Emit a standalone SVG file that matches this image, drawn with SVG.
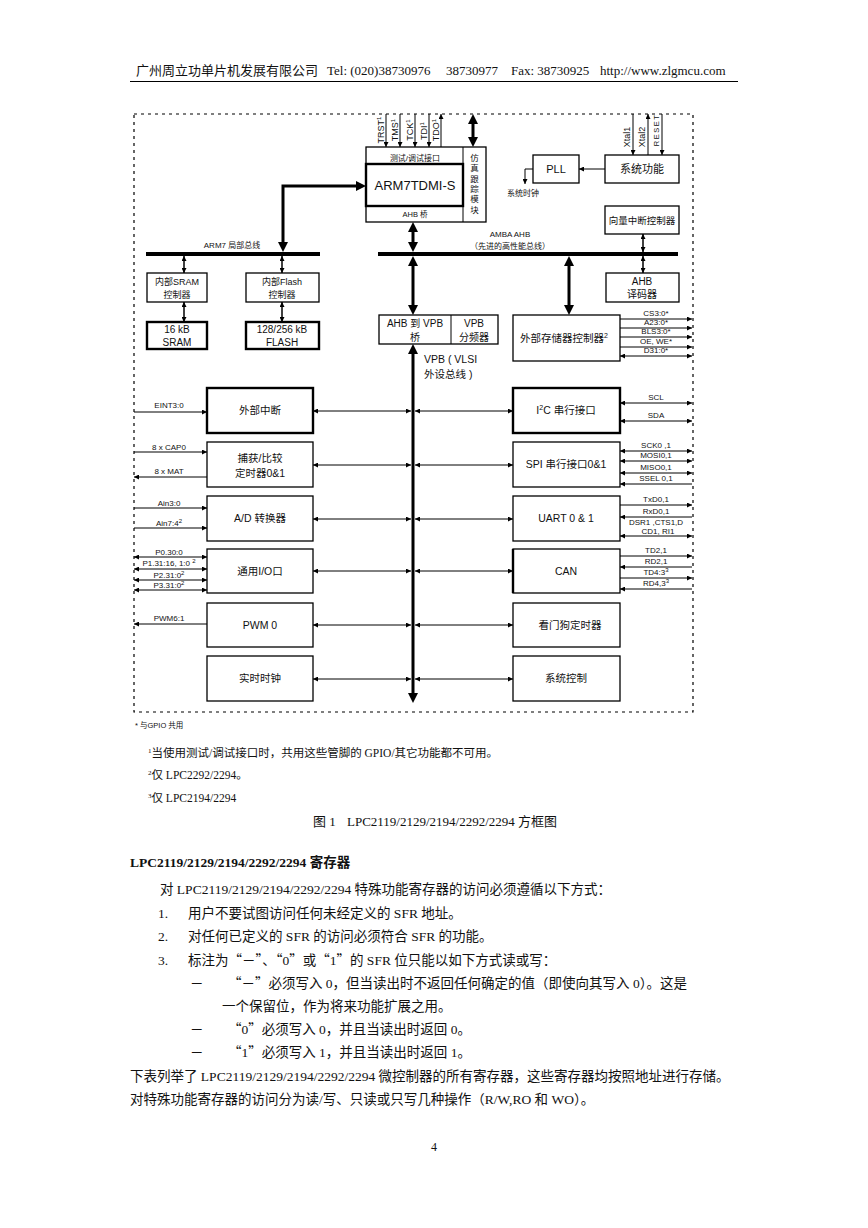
<svg xmlns="http://www.w3.org/2000/svg" width="868" height="1228" viewBox="0 0 868 1228">
<style>
.d{font-family:"Liberation Sans","Noto Sans CJK SC",sans-serif;fill:#111}
.s{font-family:"Liberation Serif","Noto Sans CJK SC",serif;fill:#111}
.q{font-family:"Noto Sans CJK SC",sans-serif}
.box{fill:#fff;stroke:#000;stroke-width:1.3}
.tb{fill:#fff;stroke:#000;stroke-width:2.4}
.ln{stroke:#000;stroke-width:1;fill:none}
.mid{stroke:#000;stroke-width:1.5;fill:none}
.thk{stroke:#000;stroke-width:3;fill:none}
.bus{stroke:#000;stroke-width:4;fill:none}
.c{text-anchor:middle}
</style>
<defs>
<marker id="a" viewBox="0 0 10 10" refX="10" refY="5" markerWidth="6" markerHeight="5" markerUnits="userSpaceOnUse" orient="auto-start-reverse"><path d="M0,0L10,5L0,10z"/></marker>
<marker id="b" viewBox="0 0 10 10" refX="6" refY="5" markerWidth="10" markerHeight="10" markerUnits="userSpaceOnUse" orient="auto-start-reverse"><path d="M0,0L10,5L0,10z"/></marker>
</defs>

<g id="header">
<text class="s" x="136" y="75" font-size="13">广州周立功单片机发展有限公司</text>
<text class="s" x="327" y="75" font-size="13">Tel: (020)38730976</text>
<text class="s" x="446" y="75" font-size="13">38730977</text>
<text class="s" x="511" y="75" font-size="13">Fax: 38730925</text>
<text class="s" x="600" y="75" font-size="13">http://www.zlgmcu.com</text>
<line x1="130" y1="81.5" x2="738" y2="81.5" stroke="#000" stroke-width="1"/>
</g>

<rect id="frame" x="134" y="114" width="559" height="598" fill="none" stroke="#000" stroke-width="1.2" stroke-dasharray="3,4"/>

<g id="cpu">
<rect class="box" x="366" y="147" width="120" height="75"/>
<line class="ln" x1="463" y1="147" x2="463" y2="222"/>
<rect class="tb" x="366" y="164" width="97" height="42"/>
<text class="d c" x="415" y="161" font-size="8">测试/调试接口</text>
<text class="d c" x="415" y="190" font-size="13">ARM7TDMI-S</text>
<text class="d c" x="415" y="217" font-size="7.5">AHB  桥</text>
<g class="d c" font-size="8.5" fill="#333">
<text x="474.5" y="161">仿</text><text x="474.5" y="171">真</text><text x="474.5" y="182">跟</text><text x="474.5" y="192">踪</text><text x="474.5" y="202">模</text><text x="474.5" y="213">块</text>
</g>
</g>

<g id="pll">
<rect class="box" x="533" y="155" width="46" height="28"/>
<text class="d c" x="556" y="173" font-size="11">PLL</text>
</g>
<g id="sysfunc">
<rect class="box" x="605" y="155" width="74" height="28"/>
<text class="d c" x="642" y="173" font-size="11">系统功能</text>
</g>
<g id="vic">
<rect class="box" x="605" y="206" width="74" height="28"/>
<text class="d c" x="642" y="224" font-size="9.5">向量中断控制器</text>
</g>
<g id="sramctl">
<rect class="box" x="147" y="273" width="60" height="29"/>
<text class="d c" x="177" y="285" font-size="9">内部SRAM</text>
<text class="d c" x="177" y="298" font-size="9">控制器</text>
</g>
<g id="sram">
<rect class="tb" x="147" y="322" width="60" height="27"/>
<text class="d c" x="177" y="333" font-size="10">16 kB</text>
<text class="d c" x="177" y="346" font-size="10">SRAM</text>
</g>
<g id="flashctl">
<rect class="box" x="246" y="273" width="73" height="29"/>
<text class="d c" x="282" y="285" font-size="9">内部Flash</text>
<text class="d c" x="282" y="298" font-size="9">控制器</text>
</g>
<g id="flash">
<rect class="tb" x="246" y="322" width="73" height="27"/>
<text class="d c" x="282" y="333" font-size="10">128/256 kB</text>
<text class="d c" x="282" y="346" font-size="10">FLASH</text>
</g>
<g id="bridge">
<rect class="box" x="379" y="315" width="119" height="29"/>
<line class="ln" x1="451" y1="315" x2="451" y2="344"/>
<text class="d c" x="415" y="327" font-size="10">AHB 到 VPB</text>
<text class="d c" x="415" y="341" font-size="10">桥</text>
<text class="d c" x="474" y="327" font-size="10">VPB</text>
<text class="d c" x="474" y="341" font-size="10">分频器</text>
</g>
<g id="emc">
<rect class="box" x="513" y="315" width="107" height="46"/>
<text class="d c" x="564" y="342" font-size="10.5">外部存储器控制器<tspan dy="-4" font-size="7">2</tspan></text>
</g>
<g id="ahbdec">
<rect class="box" x="606" y="273" width="73" height="29"/>
<text class="d c" x="642" y="285" font-size="10">AHB</text>
<text class="d c" x="642" y="298" font-size="10">译码器</text>
</g>

<g id="eint"><rect class="tb" x="207" y="388" width="106" height="45"/><text class="d c" x="260" y="414" font-size="10.5">外部中断</text></g>
<g id="timer"><rect class="box" x="207" y="442" width="106" height="45"/><text class="d c" x="260" y="462" font-size="10.5">捕获/比较</text><text class="d c" x="260" y="477" font-size="10.5">定时器0&amp;1</text></g>
<g id="adc"><rect class="box" x="207" y="496" width="106" height="45"/><text class="d c" x="260" y="522" font-size="10.5">A/D 转换器</text></g>
<g id="gpio"><rect class="box" x="207" y="549" width="106" height="44"/><text class="d c" x="260" y="575" font-size="10.5">通用I/O口</text></g>
<g id="pwm"><rect class="box" x="207" y="603" width="106" height="44"/><text class="d c" x="260" y="629" font-size="10.5">PWM 0</text></g>
<g id="rtc"><rect class="box" x="207" y="656" width="106" height="45"/><text class="d c" x="260" y="682" font-size="10.5">实时时钟</text></g>

<g id="i2c"><rect class="tb" x="513" y="388" width="107" height="45"/><text class="d c" x="566" y="414" font-size="10.5">I<tspan dy="-4" font-size="7">2</tspan><tspan dy="4">C 串行接口</tspan></text></g>
<g id="spi"><rect class="box" x="513" y="442" width="107" height="45"/><text class="d c" x="566" y="468" font-size="10.5">SPI 串行接口0&amp;1</text></g>
<g id="uart"><rect class="box" x="513" y="496" width="107" height="45"/><text class="d c" x="566" y="522" font-size="10.5">UART  0 &amp; 1</text></g>
<g id="can"><rect class="box" x="513" y="549" width="107" height="44"/><line x1="513" y1="549" x2="513" y2="593" stroke="#000" stroke-width="2.4"/><text class="d c" x="566" y="575" font-size="10.5">CAN</text></g>
<g id="wdt"><rect class="box" x="513" y="603" width="107" height="44"/><text class="d c" x="570" y="629" font-size="10.5">看门狗定时器</text></g>
<g id="sysctl"><rect class="box" x="513" y="656" width="107" height="45"/><text class="d c" x="566" y="682" font-size="10.5">系统控制</text></g>

<g id="connectors">
<line class="bus" x1="146" y1="254" x2="320" y2="254"/>
<line class="bus" x1="378" y1="254" x2="678" y2="254"/>
<line class="ln" x1="386" y1="114" x2="386" y2="147" marker-end="url(#a)"/>
<line class="ln" x1="400" y1="114" x2="400" y2="147" marker-end="url(#a)"/>
<line class="ln" x1="415" y1="114" x2="415" y2="147" marker-end="url(#a)"/>
<line class="ln" x1="429" y1="114" x2="429" y2="147" marker-end="url(#a)"/>
<line class="ln" x1="441" y1="147" x2="441" y2="114" marker-end="url(#a)"/>
<line class="thk" x1="473" y1="118" x2="473" y2="143" marker-start="url(#b)" marker-end="url(#b)"/>
<line class="ln" x1="605" y1="169" x2="579" y2="169" marker-end="url(#a)"/>
<polyline class="ln" points="533,169 525,169 525,184" marker-end="url(#a)"/>
<line class="ln" x1="633" y1="114" x2="633" y2="155" marker-end="url(#a)"/>
<line class="ln" x1="648" y1="155" x2="648" y2="114" marker-end="url(#a)"/>
<line class="ln" x1="662" y1="114" x2="662" y2="155" marker-end="url(#a)"/>
<line class="mid" x1="643" y1="234" x2="643" y2="252" marker-start="url(#a)" marker-end="url(#a)"/>
<path class="thk" d="M283,248V186H362" marker-start="url(#b)" marker-end="url(#b)"/>
<line class="thk" x1="413" y1="226" x2="413" y2="248" marker-start="url(#b)" marker-end="url(#b)"/>
<line class="thk" x1="413" y1="260" x2="413" y2="311" marker-start="url(#b)" marker-end="url(#b)"/>
<line class="thk" x1="569" y1="260" x2="569" y2="311" marker-start="url(#b)" marker-end="url(#b)"/>
<line class="mid" x1="643" y1="256" x2="643" y2="273" marker-start="url(#a)" marker-end="url(#a)"/>
<line class="mid" x1="184" y1="256" x2="184" y2="273" marker-start="url(#a)" marker-end="url(#a)"/>
<line class="mid" x1="184" y1="302" x2="184" y2="322" marker-start="url(#a)" marker-end="url(#a)"/>
<line class="mid" x1="282" y1="256" x2="282" y2="273" marker-start="url(#a)" marker-end="url(#a)"/>
<line class="mid" x1="282" y1="302" x2="282" y2="322" marker-start="url(#a)" marker-end="url(#a)"/>
<line class="thk" x1="413" y1="348" x2="413" y2="699" marker-start="url(#b)" marker-end="url(#b)"/>
<g marker-start="url(#a)" marker-end="url(#a)">
<line class="ln" x1="313" y1="411" x2="411" y2="411"/><line class="ln" x1="415" y1="411" x2="513" y2="411"/>
<line class="ln" x1="313" y1="465" x2="411" y2="465"/><line class="ln" x1="415" y1="465" x2="513" y2="465"/>
<line class="ln" x1="313" y1="519" x2="411" y2="519"/><line class="ln" x1="415" y1="519" x2="513" y2="519"/>
<line class="ln" x1="313" y1="571" x2="411" y2="571"/><line class="ln" x1="415" y1="571" x2="513" y2="571"/>
<line class="ln" x1="313" y1="625" x2="411" y2="625"/><line class="ln" x1="415" y1="625" x2="513" y2="625"/>
<line class="ln" x1="313" y1="679" x2="411" y2="679"/><line class="ln" x1="415" y1="679" x2="513" y2="679"/>
</g>
<line class="ln" x1="620" y1="319" x2="692" y2="319" marker-end="url(#a)"/>
<line class="ln" x1="620" y1="328" x2="692" y2="328" marker-end="url(#a)"/>
<line class="ln" x1="620" y1="337" x2="692" y2="337" marker-end="url(#a)"/>
<line class="ln" x1="620" y1="347" x2="692" y2="347" marker-end="url(#a)"/>
<line class="ln" x1="620" y1="356" x2="692" y2="356" marker-start="url(#a)" marker-end="url(#a)"/>
<line class="ln" x1="134" y1="412" x2="207" y2="412" marker-end="url(#a)"/>
<line class="ln" x1="134" y1="452" x2="207" y2="452" marker-end="url(#a)"/>
<line class="ln" x1="207" y1="477" x2="134" y2="477" marker-end="url(#a)"/>
<line class="ln" x1="134" y1="508" x2="207" y2="508" marker-end="url(#a)"/>
<line class="ln" x1="134" y1="528" x2="207" y2="528" marker-end="url(#a)"/>
<line class="ln" x1="134" y1="557" x2="207" y2="557" marker-start="url(#a)" marker-end="url(#a)"/>
<line class="ln" x1="134" y1="569" x2="207" y2="569" marker-start="url(#a)" marker-end="url(#a)"/>
<line class="ln" x1="134" y1="580" x2="207" y2="580" marker-start="url(#a)" marker-end="url(#a)"/>
<line class="ln" x1="134" y1="590" x2="207" y2="590" marker-start="url(#a)" marker-end="url(#a)"/>
<line class="ln" x1="207" y1="624" x2="134" y2="624" marker-end="url(#a)"/>
<line class="ln" x1="620" y1="403" x2="692" y2="403" marker-start="url(#a)" marker-end="url(#a)"/>
<line class="ln" x1="620" y1="421" x2="692" y2="421" marker-start="url(#a)" marker-end="url(#a)"/>
<line class="ln" x1="620" y1="451" x2="692" y2="451" marker-start="url(#a)" marker-end="url(#a)"/>
<line class="ln" x1="620" y1="461" x2="692" y2="461" marker-start="url(#a)" marker-end="url(#a)"/>
<line class="ln" x1="620" y1="473" x2="692" y2="473" marker-start="url(#a)" marker-end="url(#a)"/>
<line class="ln" x1="692" y1="484" x2="620" y2="484" marker-end="url(#a)"/>
<line class="ln" x1="620" y1="505" x2="692" y2="505" marker-end="url(#a)"/>
<line class="ln" x1="692" y1="517" x2="620" y2="517" marker-end="url(#a)"/>
<line class="ln" x1="620" y1="536" x2="692" y2="536" marker-start="url(#a)" marker-end="url(#a)"/>
<line class="ln" x1="620" y1="556" x2="692" y2="556" marker-end="url(#a)"/>
<line class="ln" x1="692" y1="567" x2="620" y2="567" marker-end="url(#a)"/>
<line class="ln" x1="620" y1="578" x2="692" y2="578" marker-end="url(#a)"/>
<line class="ln" x1="692" y1="589" x2="620" y2="589" marker-end="url(#a)"/>
</g>

<g id="labels" class="d">
<g font-size="9">
<text transform="translate(384,130) rotate(-90)" class="c">TRST<tspan dy="-3" font-size="6">1</tspan></text>
<text transform="translate(398,130) rotate(-90)" class="c">TMS<tspan dy="-3" font-size="6">1</tspan></text>
<text transform="translate(413,130) rotate(-90)" class="c">TCK<tspan dy="-3" font-size="6">1</tspan></text>
<text transform="translate(427,131) rotate(-90)" class="c">TDI<tspan dy="-3" font-size="6">1</tspan></text>
<text transform="translate(439,130) rotate(-90)" class="c">TDO<tspan dy="-3" font-size="6">1</tspan></text>
<text transform="translate(630,137) rotate(-90)" class="c">Xtal1</text>
<text transform="translate(645,137) rotate(-90)" class="c">Xtal2</text>
<text transform="translate(659,130) rotate(-90)" class="c" font-size="7.5" letter-spacing="1.5">RESET</text>
</g>
<g font-size="8">
<text x="523" y="196" class="c">系统时钟</text>
<text x="510" y="237" class="c">AMBA AHB</text>
<text x="510" y="249" class="c">（先进的高性能总线）</text>
<text x="232" y="248" class="c">ARM7 局部总线</text>
</g>
<text x="424" y="363" font-size="10.5">VPB ( VLSI</text>
<text x="424" y="378" font-size="10.5">外设总线 )</text>
<g font-size="8" class="c">
<text x="656" y="316">CS3:0*</text>
<text x="656" y="325">A23:0*</text>
<text x="656" y="334">BLS3:0*</text>
<text x="656" y="344">OE, WE*</text>
<text x="656" y="353">D31:0*</text>
<text x="169" y="408">EINT3:0</text>
<text x="169" y="450">8 x CAP0</text>
<text x="169" y="474">8 x MAT</text>
<text x="169" y="506">Ain3:0</text>
<text x="169" y="526">Ain7:4<tspan dy="-3" font-size="6">2</tspan></text>
<text x="169" y="555">P0.30:0</text>
<text x="169" y="566">P1.31:16, 1:0 <tspan dy="-3" font-size="6">2</tspan></text>
<text x="169" y="578">P2.31:0<tspan dy="-3" font-size="6">2</tspan></text>
<text x="169" y="588">P3.31:0<tspan dy="-3" font-size="6">2</tspan></text>
<text x="169" y="621">PWM6:1</text>
<text x="656" y="400">SCL</text>
<text x="656" y="418">SDA</text>
<text x="656" y="448">SCK0 ,1</text>
<text x="656" y="458">MOSI0,1</text>
<text x="656" y="470">MISO0,1</text>
<text x="656" y="481">SSEL 0,1</text>
<text x="656" y="502">TxD0,1</text>
<text x="656" y="514">RxD0,1</text>
<text x="656" y="525">DSR1 ,CTS1,D</text>
<text x="658" y="534">CD1, RI1</text>
<text x="656" y="553">TD2,1</text>
<text x="656" y="564">RD2,1</text>
<text x="656" y="575">TD4:3<tspan dy="-3" font-size="6">3</tspan></text>
<text x="656" y="586">RD4,3<tspan dy="-3" font-size="6">3</tspan></text>
</g>
<text x="135" y="728" font-size="7.5">* 与GPIO 共用</text>
</g>

<g id="notes" class="s">
<text x="148" y="757" font-size="11.5"><tspan font-size="7" dy="-4">1</tspan><tspan dy="4">当使用测试/调试接口时，共用这些管脚的 GPIO/其它功能都不可用。</tspan></text>
<text x="148" y="779" font-size="11.5"><tspan font-size="7" dy="-4">2</tspan><tspan dy="4">仅 LPC2292/2294。</tspan></text>
<text x="148" y="802" font-size="11.5"><tspan font-size="7" dy="-4">3</tspan><tspan dy="4">仅 LPC2194/2294</tspan></text>
<text x="313" y="826" font-size="13">图 1</text>
<text x="347" y="826" font-size="13">LPC2119/2129/2194/2292/2294 方框图</text>
</g>

<g id="body" class="s" font-size="13.5">
<text x="130" y="867" font-weight="bold">LPC2119/2129/2194/2292/2294 寄存器</text>
<text x="160" y="894">对 LPC2119/2129/2194/2292/2294 特殊功能寄存器的访问必须遵循以下方式：</text>
<text x="158" y="918">1.</text><text x="188" y="918">用户不要试图访问任何未经定义的 SFR 地址。</text>
<text x="158" y="941">2.</text><text x="188" y="941">对任何已定义的 SFR 的访问必须符合 SFR 的功能。</text>
<text x="158" y="965">3.</text><text x="188" y="965">标注为<tspan class="q">“</tspan>－<tspan class="q">”、“</tspan>0<tspan class="q">”</tspan>或<tspan class="q">“</tspan>1<tspan class="q">”</tspan>的 SFR 位只能以如下方式读或写：</text>
<text x="190" y="988">－</text><text x="228" y="988"><tspan class="q">“</tspan>－<tspan class="q">”</tspan>必须写入 0，但当读出时不返回任何确定的值（即使向其写入 0）。这是</text>
<text x="222" y="1011">一个保留位，作为将来功能扩展之用。</text>
<text x="190" y="1034">－</text><text x="228" y="1034"><tspan class="q">“</tspan>0<tspan class="q">”</tspan>必须写入 0，并且当读出时返回 0。</text>
<text x="190" y="1057">－</text><text x="228" y="1057"><tspan class="q">“</tspan>1<tspan class="q">”</tspan>必须写入 1，并且当读出时返回 1。</text>
<text x="130" y="1081">下表列举了 LPC2119/2129/2194/2292/2294 微控制器的所有寄存器，这些寄存器均按照地址进行存储。</text>
<text x="130" y="1104">对特殊功能寄存器的访问分为读/写、只读或只写几种操作（R/W,RO 和 WO）。</text>
<text x="434" y="1151" class="c" font-size="12">4</text>
</g>
</svg>
